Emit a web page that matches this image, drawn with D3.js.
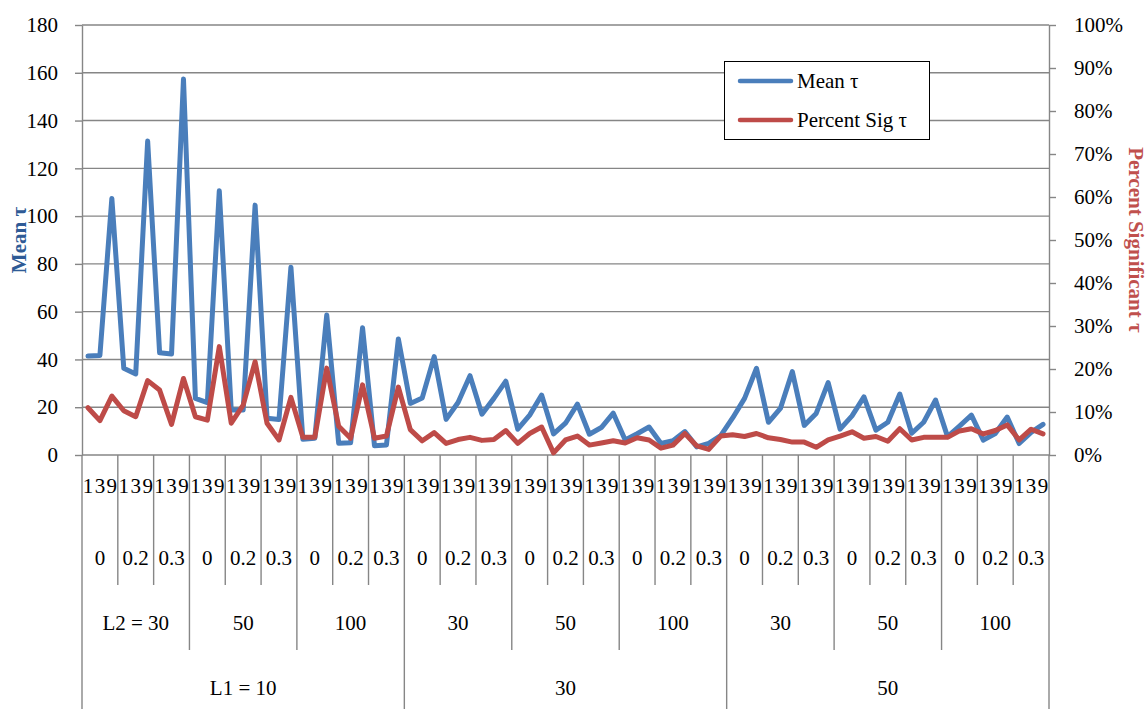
<!DOCTYPE html>
<html>
<head>
<meta charset="utf-8">
<script src="https://cdn.jsdelivr.net/npm/d3@7/dist/d3.min.js"></script>
<style>
  html, body { margin: 0; padding: 0; background: #fff; }
  svg { display: block; }
  svg text { font-family: "Liberation Serif", "Tinos", "DejaVu Serif", "Noto Serif", serif !important; }
</style>
</head>
<body>
<svg id="chart" width="1147" height="709"></svg>
<script>
// Innermost category level (cycles within every rho cell)
const nLabels = ["1", "3", "9"];
// Second level: rho
const rhoLabels = ["0", "0.2", "0.3"];
// Third level: L2 (nine cells across the chart)
const l2Labels = ["L2 = 30", "50", "100", "30", "50", "100", "30", "50", "100"];
// Outer level: L1
const l1Labels = ["L1 = 10", "30", "50"];

// Mean tau, one value per category (81 values)
const meanTau = [
  41.4, 41.7, 107.4, 36.3, 33.9, 131.4, 42.8, 42.3, 157.4,
  23.7, 21.9, 110.6, 18.8, 18.8, 104.6, 15.4, 14.9, 78.6,
  6.6, 7.0, 58.6, 4.9, 5.1, 53.3, 3.9, 4.2, 48.6,
  21.6, 23.9, 41.2, 14.9, 22.0, 33.2, 17.1, 23.7, 30.9,
  10.8, 16.7, 25.1, 8.8, 13.3, 21.3, 8.7, 11.5, 17.5,
  6.3, 8.9, 11.7, 4.8, 6.0, 9.8, 3.4, 4.9, 8.1,
  15.5, 23.7, 36.3, 13.7, 19.5, 34.9, 12.4, 17.4, 30.3,
  10.8, 16.4, 24.3, 10.4, 13.7, 25.5, 9.1, 13.7, 23.0,
  7.7, 12.1, 16.7, 6.2, 9.0, 15.9, 4.8, 9.5, 12.8
];

// Percent of significant tau, one value per category (81 values)
const pctSigTau = [
  11.0, 8.0, 13.7, 10.3, 8.9, 17.3, 15.1, 7.1, 17.8,
  8.9, 8.1, 25.2, 7.4, 11.6, 21.7, 7.4, 3.5, 13.4,
  4.1, 4.1, 20.2, 6.7, 3.9, 16.3, 3.9, 4.4, 15.8,
  5.9, 3.3, 5.2, 2.7, 3.6, 4.1, 3.4, 3.6, 5.7,
  2.7, 5.0, 6.5, 0.5, 3.5, 4.4, 2.3, 2.8, 3.3,
  2.8, 4.0, 3.5, 1.6, 2.3, 5.0, 2.1, 1.3, 4.4,
  4.7, 4.3, 5.0, 4.0, 3.6, 3.0, 3.0, 1.8, 3.5,
  4.4, 5.4, 3.9, 4.3, 3.2, 6.1, 3.5, 4.1, 4.1,
  4.1, 5.6, 6.1, 4.9, 5.7, 7.0, 3.5, 6.0, 4.9
];

const leftTicks = [0, 20, 40, 60, 80, 100, 120, 140, 160, 180];
const rightTicks = [0, 10, 20, 30, 40, 50, 60, 70, 80, 90, 100];

const BLUE = "#4A7EBB";
const RED = "#BE4B48";
const GRID = "#868686";
const FONT = 21;
const SERIF = "'Liberation Serif', 'Tinos', 'DejaVu Serif', 'Noto Serif', serif";

const svg = d3.select("#chart").attr("font-family", SERIF);
const plot = { left: 82, right: 1049, top: 25, bottom: 455 };

// Build the 81 leaf categories (L1 x L2 x rho x n)
const categories = [];
l1Labels.forEach((l1, a) => {
  for (let b = 0; b < 3; b++) {
    rhoLabels.forEach((rho) => {
      nLabels.forEach((n) => {
        categories.push({ idx: categories.length, n, rho, l2: l2Labels[a * 3 + b], l1 });
      });
    });
  }
});

const x = d3.scaleBand()
  .domain(categories.map(d => d.idx))
  .range([plot.left, plot.right])
  .paddingInner(0).paddingOuter(0);
const cx = i => x(i) + x.bandwidth() / 2;

const yL = d3.scaleLinear().domain([0, 180]).range([plot.bottom, plot.top]);
const yR = d3.scaleLinear().domain([0, 100]).range([plot.bottom, plot.top]);

// Horizontal gridlines
svg.append("g")
  .selectAll("line")
  .data(leftTicks.filter(t => t > 0))
  .join("line")
  .attr("x1", plot.left).attr("x2", plot.right)
  .attr("y1", d => yL(d)).attr("y2", d => yL(d))
  .attr("stroke", GRID).attr("stroke-width", 1.4);

// Left value axis
const axL = svg.append("g")
  .attr("transform", `translate(${plot.left},0)`)
  .call(d3.axisLeft(yL).tickValues(leftTicks).tickSize(7).tickPadding(17).tickSizeOuter(0));
axL.attr("font-family", SERIF).attr("font-size", FONT);
axL.select(".domain").attr("stroke", GRID).attr("stroke-width", 1.4);
axL.selectAll(".tick line").attr("stroke", GRID).attr("stroke-width", 1.4);
axL.selectAll(".tick text").attr("fill", "#000");

// Right percentage axis
const axR = svg.append("g")
  .attr("transform", `translate(${plot.right},0)`)
  .call(d3.axisRight(yR).tickValues(rightTicks).tickFormat(d => d + "%")
    .tickSize(7).tickPadding(18).tickSizeOuter(0));
axR.attr("font-family", SERIF).attr("font-size", FONT);
axR.select(".domain").attr("stroke", GRID).attr("stroke-width", 1.4);
axR.selectAll(".tick line").attr("stroke", GRID).attr("stroke-width", 1.4);
axR.selectAll(".tick text").attr("fill", "#000");

// Category axis baseline
svg.append("line")
  .attr("x1", plot.left).attr("x2", plot.right)
  .attr("y1", plot.bottom).attr("y2", plot.bottom)
  .attr("stroke", GRID).attr("stroke-width", 1.4);

// Multi-level category separators: every rho cell, longer at L2 and L1 boundaries
const rowBase = { rho: 585, l2: 650, l1: 709 };
const bounds = d3.range(0, categories.length + 1, 3);
svg.append("g")
  .selectAll("line")
  .data(bounds)
  .join("line")
  .attr("x1", i => i < categories.length ? x(i) : plot.right)
  .attr("x2", i => i < categories.length ? x(i) : plot.right)
  .attr("y1", plot.bottom)
  .attr("y2", i => i % 27 === 0 ? rowBase.l1 : (i % 9 === 0 ? rowBase.l2 : rowBase.rho))
  .attr("stroke", GRID).attr("stroke-width", 1.4);

const labelG = svg.append("g")
  .attr("font-size", FONT).attr("fill", "#000").attr("text-anchor", "middle");

// Row 1: n labels
labelG.append("g").selectAll("text")
  .data(categories)
  .join("text")
  .attr("x", d => cx(d.idx)).attr("y", 493)
  .text(d => d.n);

// Row 2: rho labels, centered on each group of 3
const rhoCells = d3.range(0, categories.length, 3);
labelG.append("g").selectAll("text")
  .data(rhoCells)
  .join("text")
  .attr("x", i => x(i) + x.bandwidth() * 1.5).attr("y", 565)
  .text(i => categories[i].rho);

// Row 3: L2 labels
const l2Cells = d3.range(0, categories.length, 9);
labelG.append("g").selectAll("text")
  .data(l2Cells)
  .join("text")
  .attr("x", i => x(i) + x.bandwidth() * 4.5).attr("y", 630)
  .text(i => categories[i].l2);

// Row 4: L1 labels
const l1Cells = d3.range(0, categories.length, 27);
labelG.append("g").selectAll("text")
  .data(l1Cells)
  .join("text")
  .attr("x", i => x(i) + x.bandwidth() * 13.5).attr("y", 695)
  .text(i => categories[i].l1);

// Series lines
const lineL = d3.line().x((d, i) => cx(i)).y(d => yL(d));
const lineR = d3.line().x((d, i) => cx(i)).y(d => yR(d));

svg.append("path")
  .datum(meanTau)
  .attr("d", lineL)
  .attr("fill", "none").attr("stroke", BLUE).attr("stroke-width", 5)
  .attr("stroke-linejoin", "round").attr("stroke-linecap", "round");

svg.append("path")
  .datum(pctSigTau)
  .attr("d", lineR)
  .attr("fill", "none").attr("stroke", RED).attr("stroke-width", 5)
  .attr("stroke-linejoin", "round").attr("stroke-linecap", "round");

// Axis titles
svg.append("text")
  .attr("transform", "translate(26,240) rotate(-90)")
  .attr("text-anchor", "middle").attr("font-size", FONT).attr("font-weight", "bold")
  .attr("fill", "#2F5B96")
  .text("Mean τ");

svg.append("text")
  .attr("transform", "translate(1129,240) rotate(90)")
  .attr("text-anchor", "middle").attr("font-size", FONT).attr("font-weight", "bold")
  .attr("fill", "#C0504D")
  .text("Percent Significant τ");

// Legend
const legendItems = [
  { name: "Mean τ", color: BLUE },
  { name: "Percent Sig τ", color: RED }
];
const lg = svg.append("g");
lg.append("rect")
  .attr("x", 724.5).attr("y", 61.5).attr("width", 205).attr("height", 78)
  .attr("fill", "#fff").attr("stroke", "#000").attr("stroke-width", 1);
const li = lg.selectAll("g.item")
  .data(legendItems)
  .join("g")
  .attr("class", "item")
  .attr("transform", (d, i) => `translate(0,${81 + i * 39})`);
li.append("line")
  .attr("x1", 740).attr("x2", 791)
  .attr("stroke", d => d.color).attr("stroke-width", 4.5).attr("stroke-linecap", "round");
li.append("text")
  .attr("x", 797).attr("y", 7)
  .attr("font-size", FONT).attr("fill", "#000")
  .text(d => d.name);
</script>
</body>
</html>
